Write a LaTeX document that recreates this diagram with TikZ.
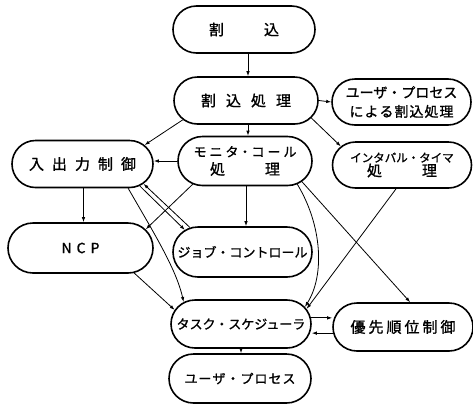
\documentclass[tikz,border=0pt]{standalone}
\usepackage{fontspec}
\setmainfont{Noto Sans CJK JP}[FakeBold=1.2]
\usetikzlibrary{shapes.misc,arrows.meta,calc}
\begin{document}
\begin{tikzpicture}[x=1pt,y=-1pt,
  box/.style={rounded rectangle, draw, line width=1.6pt, inner sep=0pt, align=center},
  f15/.style={font=\fontsize{15}{19}\selectfont},
  f14/.style={font=\fontsize{14}{20}\selectfont},
  f13/.style={font=\fontsize{13}{22}\selectfont},
  arr/.style={-{Latex[length=5pt,width=3.5pt]}, line width=0.8pt}]
\useasboundingbox (0,0) rectangle (473,405);
% nodes
\node[box,f15,minimum width=142pt,minimum height=47pt] (intr) at (244,29.5) {割\hspace{40pt}込};
\node[box,f15,minimum width=144pt,minimum height=47pt] (intp) at (246,100.5) {割\hspace{10pt}込\hspace{10pt}処\hspace{10pt}理};
\node[box,f14,minimum width=139pt,minimum height=46pt] (uintp) at (401.5,102) {ユーザ・プロセス\\[-1pt]に\hspace{1pt}よ\hspace{1pt}る\hspace{1pt}割\hspace{1pt}込\hspace{1pt}処\hspace{1pt}理};
\node[box,f15,minimum width=141pt,minimum height=47pt] (io) at (82.5,164) {入\hspace{8pt}出\hspace{8pt}力\hspace{8pt}制\hspace{8pt}御};
\node[box,f13,minimum width=134pt,minimum height=49pt] (mon) at (245,161) {モ\hspace{3pt}ニ\hspace{3pt}タ・コ\hspace{3pt}ー\hspace{3pt}ル\\[-4pt]{\fontsize{15}{15}\selectfont 処\hspace{40pt}理}};
\node[box,minimum width=139pt,minimum height=46pt] (itimer) at (402,165) {{\fontsize{11.5}{14}\selectfont インタバル・タイマ}\\[0pt]{\fontsize{15}{15}\selectfont 処\hspace{40pt}理}};
\node[box,f14,minimum width=145pt,minimum height=50pt] (ncp) at (80.5,248) {N\hspace{5pt}C\hspace{5pt}P};
\node[box,f13,minimum width=139pt,minimum height=50pt] (job) at (242.5,252) {ジョブ・コントロール};
\node[box,f13,minimum width=140pt,minimum height=48pt] (task) at (241,324) {タスク・スケジューラ};
\node[box,f15,minimum width=140pt,minimum height=48pt] (prio) at (403,327) {優\hspace{3pt}先\hspace{3pt}順\hspace{3pt}位\hspace{3pt}制\hspace{3pt}御};
\node[box,f13,minimum width=142pt,minimum height=49pt] (user) at (240,378.5) {ユ\hspace{1pt}ー\hspace{1pt}ザ\hspace{1pt}・\hspace{1pt}プ\hspace{1pt}ロ\hspace{1pt}セ\hspace{1pt}ス};
% connectors
\draw[arr] ([xshift=4pt]intr.south) -- ([xshift=4pt]intr.south |- intp.north);
\draw[arr] (intp.east) -- (uintp.west);
\draw[arr] (intp.197) -- (io.17);
\draw[arr] ([xshift=2pt]intp.south) -- ([xshift=2pt]intp.south |- mon.north);
\draw[arr] (intp.345) -- (itimer.163);
\draw[arr] (mon.west) -- (mon.west -| io.east);
\draw[arr] ([xshift=1pt]io.south) -- ([xshift=1pt]io.south |- ncp.north);
\draw[arr] (mon.204) -- (ncp.16);
\draw[arr] ([xshift=1pt]mon.south) -- ([xshift=1pt]mon.south |- job.north);
\draw[arr] (io.339) -- (job.159);
\draw[arr] (job.155) -- (io.342);
\draw[arr] (io.332) .. controls (152,230) and (176,268) .. (task.159);
\draw[arr] (mon.336) .. controls (322,225) and (325,275) .. (task.15);
\draw[arr] (mon.340) -- (prio.74);
\draw[arr] (itimer.256) -- (task.13);
\draw[arr] (ncp.335) -- (task.168);
\draw[arr] (task.5) -- (task.5 -| prio.west);
\draw[arr] (prio.185) -- (prio.185 -| task.east);
\draw[arr] (task.south) -- (task.south |- user.north);
\end{tikzpicture}
\end{document}
